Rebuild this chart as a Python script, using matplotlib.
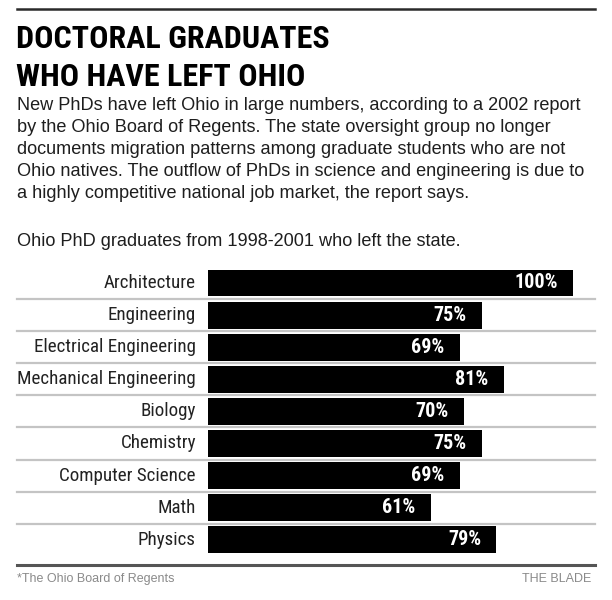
import matplotlib
matplotlib.use("Agg")
import matplotlib.pyplot as plt
from matplotlib.transforms import blended_transform_factory
from matplotlib.lines import Line2D

# ─── Dati ────────────────────────────────────────────────────────────────
fields = ["Architecture", "Engineering", "Electrical Engineering",
          "Mechanical Engineering", "Biology", "Chemistry",
          "Computer Science", "Math", "Physics"]
pct_left = [100, 75, 69, 81, 70, 75, 69, 61, 79]

title_lines = ["DOCTORAL GRADUATES", "WHO HAVE LEFT OHIO"]
body_lines = [
    "New PhDs have left Ohio in large numbers, according to a 2002 report",
    "by the Ohio Board of Regents. The state oversight group no longer",
    "documents migration patterns among graduate students who are not",
    "Ohio natives. The outflow of PhDs in science and engineering is due to",
    "a highly competitive national job market, the report says.",
]
subtitle = "Ohio PhD graduates from 1998-2001 who left the state."
source = "*The Ohio Board of Regents"
credit = "THE BLADE"

W, H = 612, 600
# font condensato (Helvetica Condensed nell'originale)
NARROW = ["Roboto Condensed", "DejaVu Sans"]
SANS = ["Liberation Sans", "DejaVu Sans"]


def fx(x):
    return x / W


def fy(y):
    return 1 - y / H


fig = plt.figure(figsize=(W / 100, H / 100), dpi=100)
fig.patch.set_facecolor("white")

# linea in alto
fig.add_artist(Line2D([fx(17), fx(595)], [fy(9), fy(9)], color="#2a2a2a",
                      linewidth=1.8))

# titolo
for i, line in enumerate(title_lines):
    fig.text(fx(16), fy(48.5 + 37.7 * i), line, family=NARROW,
             stretch="condensed", weight="black", fontsize=23,
             color="black", va="baseline")

# testo descrittivo
for i, line in enumerate(body_lines):
    fig.text(fx(17), fy(110 + 22 * i), line, family=SANS, fontsize=13.1,
             color="#1e1e1e", va="baseline")

fig.text(fx(17), fy(246), subtitle, family=SANS, fontsize=13.1,
         color="#1e1e1e", va="baseline")

# ─── Barre ───────────────────────────────────────────────────────────────
row_h = 32.1
top_c = 283.0
n = len(fields)
ax_top = top_c - row_h / 2
ax_bot = top_c + row_h * (n - 1) + row_h / 2
ax = fig.add_axes([fx(207.5), fy(ax_bot), (573.3 - 207.5) / W,
                   (ax_bot - ax_top) / H])
ypos = list(range(n))
ax.barh(ypos, pct_left, height=0.84, color="black", zorder=3)
ax.set_xlim(0, 100)
ax.set_ylim(n - 0.5, -0.5)
ax.axis("off")

for y, v in zip(ypos, pct_left):
    ax.annotate(f"{v}%", (v, y), xytext=(-11, 0), textcoords="offset points",
                ha="right", va="center", family=NARROW, stretch="condensed",
                weight="bold", fontsize=14.5, color="white", zorder=4)

lab_tr = blended_transform_factory(fig.transFigure, ax.transData)
for y, name in zip(ypos, fields):
    ax.text(fx(196), y, name, transform=lab_tr, ha="right", va="center",
            family=NARROW, stretch="condensed", fontsize=13.7,
            color="#222222")

# separatori tra le righe
for y in ypos[:-1]:
    ax.add_artist(Line2D([fx(17), fx(595)], [y + 0.5, y + 0.5],
                         transform=lab_tr, color="#c4c4c4", linewidth=1.6,
                         clip_on=False, zorder=1))

# linea in basso + fonti
fig.add_artist(Line2D([fx(17), fx(595)], [fy(564.5), fy(564.5)],
                      color="#555555", linewidth=2.2))
fig.text(fx(17), fy(582), source, family=SANS, fontsize=9,
         color="#8a8a8a", va="baseline")
fig.text(fx(591), fy(582), credit, family=SANS, fontsize=9,
         color="#8a8a8a", va="baseline", ha="right")

fig.savefig("out.png", dpi=100)
plt.close(fig)
